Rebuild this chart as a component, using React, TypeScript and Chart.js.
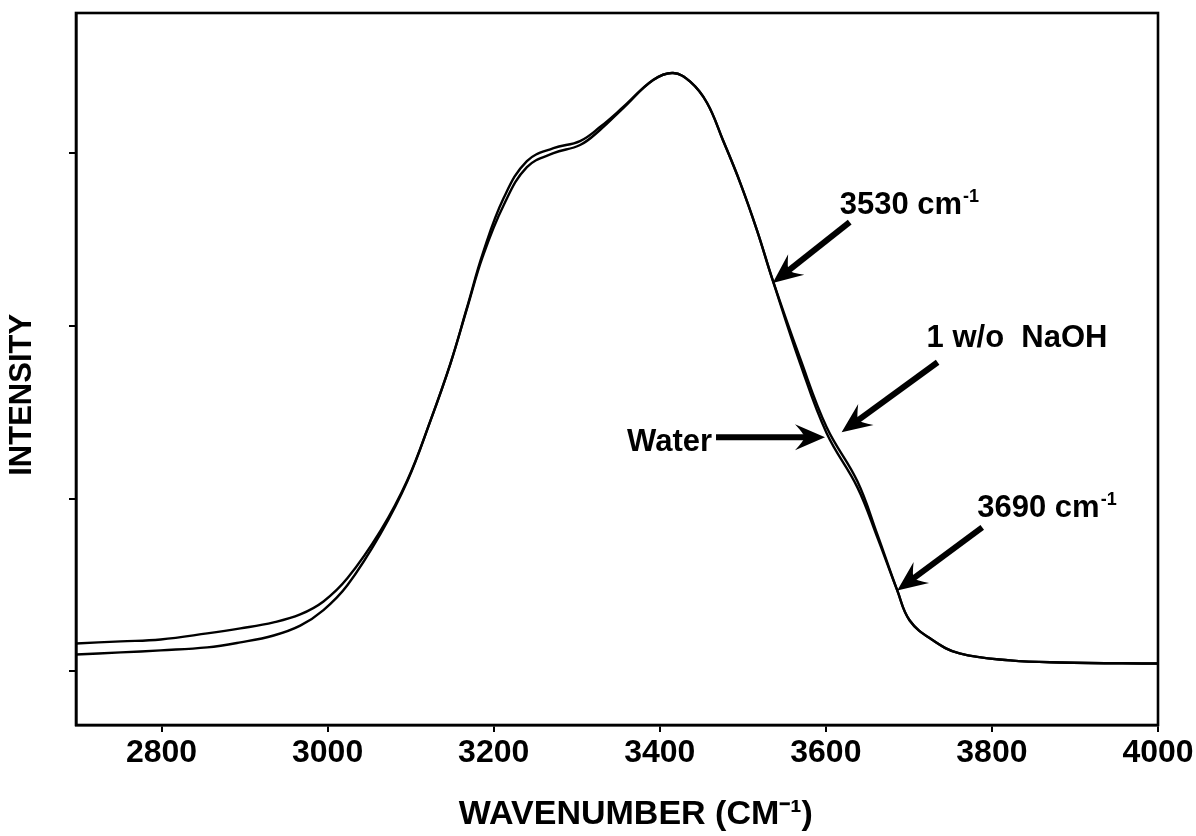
import React, { useEffect, useRef } from 'react';
import { Chart, registerables } from 'chart.js';

Chart.register(...registerables);

// Wavenumber (cm^-1) sampling positions
const WAVENUMBERS = [
  2697, 2751, 2799, 2855, 2895, 2935, 2967, 2995, 3024, 3064,
  3096, 3124, 3148, 3168, 3187, 3212, 3240, 3272, 3304, 3328,
  3356, 3392, 3416, 3437, 3457, 3476, 3497, 3517, 3536, 3569,
  3601, 3638, 3662, 3686, 3701, 3729, 3761, 3822, 3882, 4000,
];

// Intensity (arbitrary units) – pure water
const WATER = [
  0.162, 0.174, 0.185, 0.220, 0.249, 0.284, 0.330, 0.405, 0.540, 0.816,
  1.106, 1.453, 1.783, 2.108, 2.420, 2.739, 2.953, 3.028, 3.069, 3.150,
  3.266, 3.422, 3.463, 3.411, 3.289, 3.075, 2.826, 2.554, 2.264, 1.783,
  1.378, 1.065, 0.776, 0.469, 0.295, 0.180, 0.104, 0.064, 0.052, 0.046,
];

// Intensity (arbitrary units) – 1 w/o NaOH
const NAOH = [
  0.098, 0.110, 0.122, 0.139, 0.168, 0.208, 0.265, 0.355, 0.500, 0.799,
  1.100, 1.453, 1.783, 2.102, 2.403, 2.698, 2.918, 2.999, 3.046, 3.133,
  3.260, 3.422, 3.463, 3.411, 3.289, 3.075, 2.826, 2.554, 2.264, 1.812,
  1.413, 1.100, 0.793, 0.469, 0.295, 0.180, 0.104, 0.064, 0.052, 0.046,
];

const X_TICKS = [2800, 3000, 3200, 3400, 3600, 3800, 4000];
const Y_TICKS = [0, 1, 2, 3];

const FONT = '"Liberation Sans", Arial, Helvetica, sans-serif';

type Note = {
  label: string;
  sup?: string;
  at: [number, number];
  tail: [number, number];
  text: [number, number];
  align: CanvasTextAlign;
};

const NOTES: Note[] = [
  { label: '3530 cm', sup: '-1', at: [3536, 2.247], tail: [77, -61], text: [67, -69], align: 'left' },
  { label: '1 w/o  NaOH', at: [3619, 1.384], tail: [96, -70], text: [85, -85], align: 'left' },
  { label: 'Water', at: [3599, 1.355], tail: [-109, 0], text: [-113, 14], align: 'right' },
  { label: '3690 cm', sup: '-1', at: [3686, 0.469], tail: [85, -63], text: [80, -73], align: 'left' },
];

function drawArrow(ctx: CanvasRenderingContext2D, x0: number, y0: number, x1: number, y1: number) {
  const ang = Math.atan2(y1 - y0, x1 - x0);
  const len = Math.hypot(x1 - x0, y1 - y0);
  const headLen = 30;
  const headW = 13;
  const shaft = 6;
  ctx.save();
  ctx.translate(x1, y1);
  ctx.rotate(ang);
  ctx.beginPath();
  ctx.rect(-len, -shaft / 2, len - headLen * 0.6, shaft);
  ctx.fill();
  ctx.beginPath();
  ctx.moveTo(0, 0);
  ctx.lineTo(-headLen, -headW);
  ctx.quadraticCurveTo(-headLen * 0.7, -headW * 0.25, -headLen * 0.68, 0);
  ctx.quadraticCurveTo(-headLen * 0.7, headW * 0.25, -headLen, headW);
  ctx.closePath();
  ctx.fill();
  ctx.restore();
}

const framePlugin = {
  id: 'frame',
  afterDraw(chart: any) {
    const { ctx, chartArea } = chart;
    const { left, top, right, bottom } = chartArea;
    ctx.save();
    ctx.strokeStyle = '#000';
    ctx.lineWidth = 2.6;
    ctx.strokeRect(left, top, right - left, bottom - top);
    ctx.restore();
  },
};

const notesPlugin = {
  id: 'notes',
  afterDatasetsDraw(chart: any) {
    const { ctx, scales } = chart;
    const xs = scales.x;
    const ys = scales.y;
    ctx.save();
    ctx.fillStyle = '#000';
    for (const n of NOTES) {
      const tx = xs.getPixelForValue(n.at[0]);
      const ty = ys.getPixelForValue(n.at[1]);
      drawArrow(ctx, tx + n.tail[0], ty + n.tail[1], tx, ty);
      ctx.font = `bold 31px ${FONT}`;
      ctx.textBaseline = 'alphabetic';
      ctx.textAlign = n.align;
      const lx = tx + n.text[0];
      const ly = ty + n.text[1];
      ctx.fillText(n.label, lx, ly);
      if (n.sup) {
        const w = ctx.measureText(n.label).width;
        ctx.font = `bold 18px ${FONT}`;
        ctx.textAlign = 'left';
        ctx.fillText(n.sup, lx + w + 1, ly - 12);
      }
    }
    ctx.restore();
  },
};

export default function App() {
  const ref = useRef<HTMLCanvasElement | null>(null);

  useEffect(() => {
    document.body.style.margin = '0';
    const canvas = ref.current;
    if (!canvas) return;
    Chart.defaults.font.family = FONT;
    const chart = new Chart(canvas, {
      type: 'line',
      data: {
        datasets: [
          {
            label: 'Water',
            data: WAVENUMBERS.map((w, i) => ({ x: w, y: WATER[i] })),
            borderColor: '#000',
            borderWidth: 2.4,
            pointRadius: 0,
            fill: false,
            tension: 0.4,
          },
          {
            label: '1 w/o NaOH',
            data: WAVENUMBERS.map((w, i) => ({ x: w, y: NAOH[i] })),
            borderColor: '#000',
            borderWidth: 2.4,
            pointRadius: 0,
            fill: false,
            tension: 0.4,
          },
        ],
      },
      options: {
        animation: false,
        responsive: false,
        devicePixelRatio: 1,
        layout: { padding: { left: 0, right: 38, top: 13, bottom: 0 } },
        plugins: {
          legend: { display: false },
          tooltip: { enabled: false },
        },
        scales: {
          x: {
            type: 'linear',
            min: 2697,
            max: 4000,
            afterBuildTicks: (s: any) => {
              s.ticks = X_TICKS.map((v) => ({ value: v }));
            },
            afterFit: (s: any) => {
              s.height = 111;
              s.paddingLeft = 0;
              s.paddingRight = 0;
            },
            ticks: {
              color: '#000',
              font: { family: FONT, size: 32, weight: 'bold' },
              padding: 2,
              maxRotation: 0,
              autoSkip: false,
              callback: (v: any) => String(v),
            },
            grid: { drawOnChartArea: false, drawTicks: true, tickLength: 7, color: '#000', lineWidth: 2 },
            border: { display: true, color: '#000', width: 2.6 },
            title: {
              display: true,
              text: '    WAVENUMBER (CM⁻¹)',
              color: '#000',
              font: { family: FONT, size: 34, weight: 'bold' },
              padding: { top: 0, bottom: 1 },
            },
          },
          y: {
            type: 'linear',
            min: -0.31,
            max: 3.81,
            afterBuildTicks: (s: any) => {
              s.ticks = Y_TICKS.map((v) => ({ value: v }));
            },
            afterFit: (s: any) => {
              s.width = 76;
              s.paddingTop = 0;
              s.paddingBottom = 0;
            },
            ticks: {
              display: true,
              padding: 0,
              callback: () => '',
            },
            grid: { drawOnChartArea: false, drawTicks: true, tickLength: 7, color: '#000', lineWidth: 2 },
            border: { display: true, color: '#000', width: 2.6 },
            title: {
              display: true,
              text: 'INTENSITY      ',
              color: '#000',
              font: { family: FONT, size: 31, weight: 'bold' },
              padding: { top: 4, bottom: 0 },
            },
          },
        },
      },
      plugins: [framePlugin, notesPlugin],
    } as any);
    return () => chart.destroy();
  }, []);

  return (
    <div style={{ width: 1196, height: 836, background: '#fff' }}>
      <canvas ref={ref} width={1196} height={836} style={{ display: 'block', width: 1196, height: 836 }} />
    </div>
  );
}
